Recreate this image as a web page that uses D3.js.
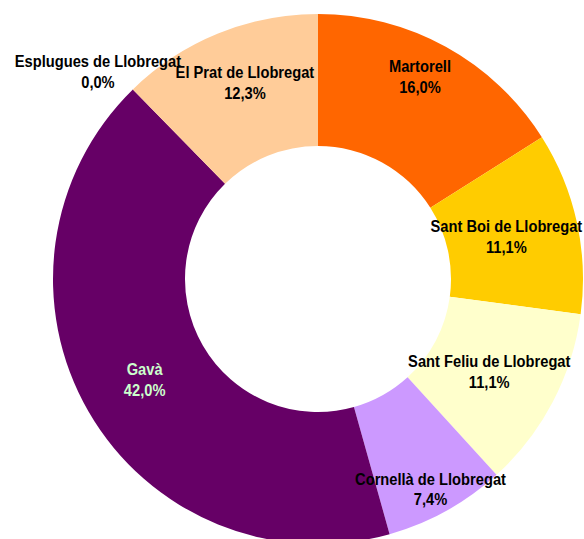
<!DOCTYPE html>
<html>
<head>
<meta charset="utf-8">
<script src="https://cdn.jsdelivr.net/npm/d3@7"></script>
<style>
  body { margin: 0; background: #fff; }
  svg { display: block; }
</style>
</head>
<body>
<div id="chart"></div>
<script>
// data, clockwise from 12 o'clock
var categories = ["Martorell", "Sant Boi de Llobregat", "Sant Feliu de Llobregat",
  "Cornellà de Llobregat", "Gavà", "Esplugues de Llobregat", "El Prat de Llobregat"];
var values = [16.0, 11.1, 11.1, 7.4, 42.0, 0.0, 12.3];
var colors = ["#ff6600", "#ffcc00", "#ffffcc", "#cc99ff", "#660066", "#993366", "#ffcc99"];

var width = 584;
var height = 539;
var cx = 318, cy = 279;
var outerR = 265, innerR = 133;
var fontSize = 16.5;

// label nudges from the centroid (excel moved a few of them)
var nudge = [[6, -28], [-6, 0], [-5, 0], [16, 36], [-1, 1], [-81, -65], [2, -12]];

var svg = d3.select("#chart")
    .append("svg")
    .attr("width", width)
    .attr("height", height);

var g = svg.append("g")
    .attr("transform", "translate(" + cx + "," + cy + ")");

var data = categories.map(function(c, i) { return {name: c, value: values[i], i: i}; });

var pie = d3.pie()
    .value(function(d) { return d.value; })
    .sort(null);

var arc = d3.arc()
    .innerRadius(innerR)
    .outerRadius(outerR);

var arcs = pie(data);

g.selectAll("path")
    .data(arcs)
    .enter()
    .append("path")
    .attr("d", arc)
    .attr("fill", function(d) { return colors[d.data.i]; });

var fmt = function(v) { return d3.format(".1f")(v).replace(".", ",") + "%"; };

var labels = g.selectAll(".lbl")
    .data(arcs)
    .enter()
    .append("text")
    .attr("class", "lbl")
    .attr("transform", function(d) {
      var c = arc.centroid(d);
      var n = nudge[d.data.i];
      return "translate(" + (c[0] + n[0]) + "," + (c[1] + n[1]) + ") scale(0.89,1)";
    })
    .attr("text-anchor", "middle")
    .style("font-family", "'Liberation Sans', Arial, sans-serif")
    .style("font-weight", "bold")
    .style("font-size", fontSize + "px")
    .attr("fill", function(d) { return d.data.name == "Gavà" ? "#ccffcc" : "#000"; });

labels.append("tspan")
    .attr("x", 0)
    .attr("y", -4.5)
    .text(function(d) { return d.data.name; });

labels.append("tspan")
    .attr("x", 0)
    .attr("y", 16.3)
    .text(function(d) { return fmt(d.data.value); });
</script>
</body>
</html>
